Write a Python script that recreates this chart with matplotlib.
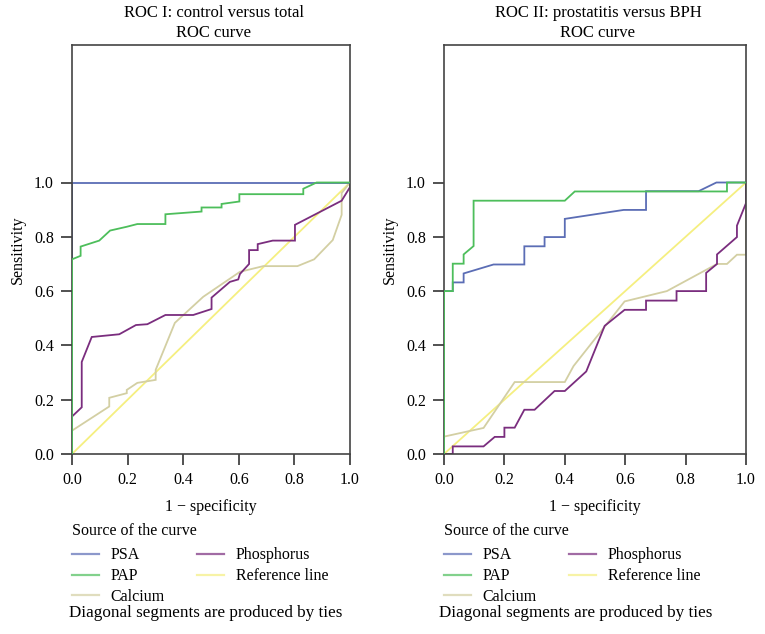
import matplotlib
matplotlib.use("Agg")
import matplotlib.pyplot as plt
from matplotlib.ticker import FormatStrFormatter

plt.rcParams['font.family'] = ['Liberation Serif', 'DejaVu Serif']

# ---------------- Data: ROC I (control versus total) ----------------
roc1_psa_x = [0.0, 0.0, 1.0]
roc1_psa_y = [0.0, 1.0, 1.0]

roc1_pap_x = [0.0, 0.0, 0.031, 0.031, 0.098, 0.137, 0.197, 0.235, 0.336, 0.336, 0.466, 0.466,
              0.538, 0.538, 0.602, 0.602, 0.832, 0.832, 0.880, 1.0]
roc1_pap_y = [0.0, 0.717, 0.730, 0.764, 0.786, 0.823, 0.837, 0.847, 0.847, 0.883, 0.893, 0.908,
              0.908, 0.921, 0.930, 0.957, 0.957, 0.977, 1.0, 1.0]

roc1_ca_x = [0.0, 0.134, 0.134, 0.197, 0.197, 0.235, 0.301, 0.301, 0.370, 0.472, 0.604, 0.688,
             0.811, 0.871, 0.938, 0.970, 0.970, 1.0]
roc1_ca_y = [0.086, 0.175, 0.207, 0.224, 0.236, 0.262, 0.273, 0.310, 0.483, 0.579, 0.671, 0.692,
             0.692, 0.717, 0.788, 0.881, 0.961, 1.0]

roc1_p_x = [0.0, 0.035, 0.035, 0.071, 0.170, 0.230, 0.271, 0.336, 0.436, 0.502, 0.502, 0.568,
            0.598, 0.604, 0.637, 0.637, 0.668, 0.668, 0.722, 0.802, 0.802, 0.970, 1.0, 1.0]
roc1_p_y = [0.138, 0.172, 0.339, 0.431, 0.441, 0.475, 0.478, 0.512, 0.512, 0.534, 0.576, 0.634,
            0.643, 0.663, 0.700, 0.751, 0.751, 0.773, 0.786, 0.786, 0.844, 0.933, 0.983, 1.0]

# ---------------- Data: ROC II (prostatitis versus BPH) ----------------
roc2_psa_x = [0.0, 0.0, 0.029, 0.029, 0.065, 0.065, 0.164, 0.266, 0.266, 0.333, 0.333, 0.400,
              0.400, 0.595, 0.669, 0.669, 0.843, 0.902, 1.0]
roc2_psa_y = [0.0, 0.600, 0.600, 0.632, 0.632, 0.665, 0.698, 0.698, 0.765, 0.765, 0.799, 0.799,
              0.866, 0.899, 0.899, 0.968, 0.968, 1.0, 1.0]

roc2_pap_x = [0.0, 0.0, 0.029, 0.029, 0.065, 0.065, 0.098, 0.098, 0.400, 0.433, 0.937, 0.937, 1.0]
roc2_pap_y = [0.0, 0.600, 0.600, 0.701, 0.701, 0.735, 0.766, 0.933, 0.933, 0.967, 0.967, 1.0, 1.0]

roc2_ca_x = [0.0, 0.131, 0.234, 0.400, 0.429, 0.598, 0.738, 0.904, 0.937, 0.970, 1.0, 1.0]
roc2_ca_y = [0.064, 0.096, 0.265, 0.265, 0.324, 0.562, 0.600, 0.700, 0.700, 0.734, 0.734, 1.0]

roc2_p_x = [0.0, 0.029, 0.029, 0.131, 0.168, 0.200, 0.200, 0.234, 0.266, 0.300, 0.366, 0.400,
            0.471, 0.532, 0.598, 0.669, 0.669, 0.770, 0.770, 0.868, 0.868, 0.904, 0.904, 0.970,
            0.970, 1.0, 1.0]
roc2_p_y = [0.0, 0.0, 0.028, 0.028, 0.063, 0.063, 0.097, 0.097, 0.163, 0.163, 0.232, 0.232,
            0.304, 0.472, 0.531, 0.531, 0.565, 0.565, 0.600, 0.600, 0.667, 0.700, 0.735, 0.799,
            0.841, 0.924, 1.0]

ref_x = [0.0, 1.0]
ref_y = [0.0, 1.0]

series_names = ["PSA", "PAP", "Calcium", "Phosphorus", "Reference line"]
colors = {"PSA": "#5b6db5", "PAP": "#4dbe5b", "Calcium": "#d3cfa3",
          "Phosphorus": "#7a2d7e", "Reference line": "#f5ef80"}
zorders = {"PSA": 2, "PAP": 3, "Calcium": 2, "Phosphorus": 2, "Reference line": 1.9}

titles = ["ROC I: control versus total", "ROC II: prostatitis versus BPH"]
tick_vals = [0.0, 0.2, 0.4, 0.6, 0.8, 1.0]

panels = [
    {"PSA": (roc1_psa_x, roc1_psa_y), "PAP": (roc1_pap_x, roc1_pap_y),
     "Calcium": (roc1_ca_x, roc1_ca_y), "Phosphorus": (roc1_p_x, roc1_p_y),
     "Reference line": (ref_x, ref_y)},
    {"PSA": (roc2_psa_x, roc2_psa_y), "PAP": (roc2_pap_x, roc2_pap_y),
     "Calcium": (roc2_ca_x, roc2_ca_y), "Phosphorus": (roc2_p_x, roc2_p_y),
     "Reference line": (ref_x, ref_y)},
]

W, H = 765, 634
fig = plt.figure(figsize=(W / 100, H / 100), dpi=100)

axes_px = [(72, 350), (444, 746)]
top_px, bot_px = 45, 454
FS = 11.5

for i, (x0, x1) in enumerate(axes_px):
    ax = fig.add_axes([x0 / W, 1 - bot_px / H, (x1 - x0) / W, (bot_px - top_px) / H])
    data = panels[i]
    draw_order = ["Reference line", "Calcium", "Phosphorus", "PSA", "PAP"]
    handles = {}
    for name in draw_order:
        xs, ys = data[name]
        ln, = ax.plot(xs, ys, color=colors[name], lw=1.3, solid_joinstyle='miter',
                      zorder=zorders[name], label=name)
        handles[name] = ln
    ax.set_xlim(0, 1)
    ax.set_ylim(0, (bot_px - top_px) / (bot_px - 182.5))
    ax.set_xticks(tick_vals)
    ax.set_yticks(tick_vals)
    ax.xaxis.set_major_formatter(FormatStrFormatter('%.1f'))
    ax.yaxis.set_major_formatter(FormatStrFormatter('%.1f'))
    ax.tick_params(direction='out', length=8, width=1.2, color='#333333',
                   labelsize=FS, pad=5)
    for sp in ax.spines.values():
        sp.set_color('#444444')
        sp.set_linewidth(1.2)
    ax.set_xlabel("1 \u2212 specificity", fontsize=FS, labelpad=8)
    ax.set_ylabel("Sensitivity", fontsize=FS, labelpad=6)
    cx = (x0 + x1) / 2 / W + 3 / W
    fig.text(cx, 1 - 13 / H, titles[i], ha='center', va='center', fontsize=12)
    fig.text(cx, 1 - 33 / H, "ROC curve", ha='center', va='center', fontsize=12)

    leg = ax.legend([handles[n] for n in series_names], series_names,
                    loc='upper left', bbox_to_anchor=(0, (bot_px - 523) / (bot_px - top_px)),
                    ncol=2, frameon=False, fontsize=FS, title="Source of the curve",
                    title_fontsize=FS, alignment='left', borderpad=0, borderaxespad=0,
                    handlelength=1.7, handletextpad=0.7, columnspacing=2.05,
                    labelspacing=0.3)
    leg._legend_box.sep = 6
    for lh in leg.get_lines():
        lh.set_alpha(0.7)
        lh.set_linewidth(1.6)
    fig.text((x0 + 134 if i == 0 else x0 + 132) / W, 1 - 613 / H,
             "Diagonal segments are produced by ties",
             ha='center', va='center', fontsize=12.3)

fig.savefig("out.png", dpi=100)
